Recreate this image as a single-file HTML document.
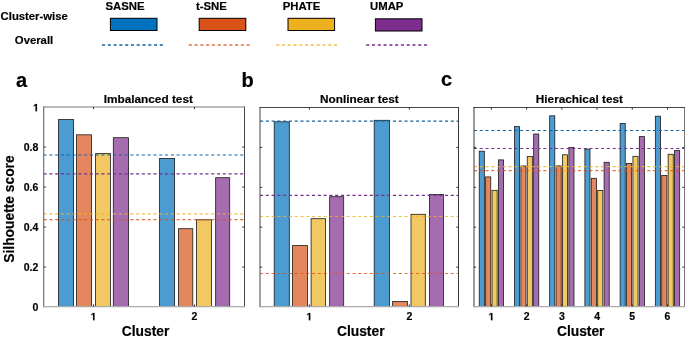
<!DOCTYPE html>
<html><head><meta charset="utf-8"><style>
html,body{margin:0;padding:0;background:#fff;width:685px;height:341px;overflow:hidden}
</style></head><body>
<svg width="685" height="341" viewBox="0 0 685 341" style="display:block;will-change:transform">
<rect width="685" height="341" fill="#fff"/>
<g font-family='"Liberation Sans", sans-serif' font-weight="bold" fill="#000" stroke="#000" stroke-width="0.18">
<text x="34.2" y="19.6" font-size="11.3" text-anchor="middle">Cluster-wise</text>
<text x="34" y="44.1" font-size="11.3" text-anchor="middle">Overall</text>
<text x="105.5" y="10.4" font-size="11.35">SASNE</text>
<text x="196.0" y="10.4" font-size="11.35">t-SNE</text>
<text x="282.7" y="10.4" font-size="11.35">PHATE</text>
<text x="370.0" y="9.6" font-size="11.35">UMAP</text>
</g>
<rect x="110.4" y="18.3" width="46.6" height="12.2" fill="#0072BD" stroke="#000" stroke-width="1"/>
<line x1="102.0" y1="45" x2="164.0" y2="45" stroke="#14649f" stroke-width="1.5" stroke-opacity="1" stroke-dasharray="3.1 2.68"/>
<rect x="199.2" y="18.3" width="46.6" height="12.2" fill="#D95319" stroke="#000" stroke-width="1"/>
<line x1="188.8" y1="45" x2="250.8" y2="45" stroke="#D95319" stroke-width="1.5" stroke-opacity="0.82" stroke-dasharray="3.1 2.68"/>
<rect x="288.0" y="18.3" width="46.6" height="12.2" fill="#EDB120" stroke="#000" stroke-width="1"/>
<line x1="276.2" y1="45" x2="338.2" y2="45" stroke="#EDB120" stroke-width="1.5" stroke-opacity="0.82" stroke-dasharray="3.1 2.68"/>
<rect x="375.4" y="18.8" width="46.6" height="12.2" fill="#7E2F8E" stroke="#000" stroke-width="1"/>
<line x1="366.2" y1="45" x2="428.2" y2="45" stroke="#76308a" stroke-width="1.5" stroke-opacity="1" stroke-dasharray="3.1 2.68"/>
<rect x="58.40" y="119.60" width="15.20" height="187.00" fill="rgb(77,156,209)" stroke="#1a1a1a" stroke-width="0.8"/>
<rect x="76.50" y="134.80" width="15.00" height="171.80" fill="rgb(228,135,94)" stroke="#1a1a1a" stroke-width="0.8"/>
<rect x="95.60" y="153.60" width="14.80" height="153.00" fill="rgb(242,200,99)" stroke="#1a1a1a" stroke-width="0.8"/>
<rect x="113.30" y="137.70" width="15.20" height="168.90" fill="rgb(165,109,176)" stroke="#1a1a1a" stroke-width="0.8"/>
<rect x="159.60" y="158.50" width="15.00" height="148.10" fill="rgb(77,156,209)" stroke="#1a1a1a" stroke-width="0.8"/>
<rect x="178.50" y="228.70" width="14.30" height="77.90" fill="rgb(228,135,94)" stroke="#1a1a1a" stroke-width="0.8"/>
<rect x="196.40" y="219.80" width="15.20" height="86.80" fill="rgb(242,200,99)" stroke="#1a1a1a" stroke-width="0.8"/>
<rect x="215.65" y="177.70" width="14.05" height="128.90" fill="rgb(165,109,176)" stroke="#1a1a1a" stroke-width="0.8"/>
<line x1="43.6" y1="219.60" x2="244.5" y2="219.60" stroke="#D95319" stroke-width="1.2" stroke-opacity="0.82" stroke-dasharray="3.1 2.68"/>
<line x1="43.6" y1="213.80" x2="244.5" y2="213.80" stroke="#EDB120" stroke-width="1.2" stroke-opacity="0.82" stroke-dasharray="3.1 2.68"/>
<line x1="43.6" y1="173.90" x2="244.5" y2="173.90" stroke="#76308a" stroke-width="1.2" stroke-opacity="1" stroke-dasharray="3.1 2.68"/>
<line x1="43.6" y1="155.00" x2="244.5" y2="155.00" stroke="#14649f" stroke-width="1.2" stroke-opacity="1" stroke-dasharray="3.1 2.68"/>
<line x1="43.7" y1="307.20" x2="43.7" y2="106.5" stroke="#666" stroke-width="1.1"/>
<line x1="244.5" y1="307.20" x2="244.5" y2="106.5" stroke="#444" stroke-width="1.0"/>
<line x1="43.1" y1="107.0" x2="245.0" y2="107.0" stroke="#777" stroke-width="1.0"/>
<line x1="43.1" y1="306.6" x2="245.0" y2="306.6" stroke="#aaa" stroke-width="1.2"/>
<line x1="43.6" y1="267.00" x2="45.80" y2="267.00" stroke="#333" stroke-width="1"/>
<line x1="244.5" y1="267.00" x2="242.3" y2="267.00" stroke="#333" stroke-width="1"/>
<line x1="43.6" y1="227.00" x2="45.80" y2="227.00" stroke="#333" stroke-width="1"/>
<line x1="244.5" y1="227.00" x2="242.3" y2="227.00" stroke="#333" stroke-width="1"/>
<line x1="43.6" y1="187.00" x2="45.80" y2="187.00" stroke="#333" stroke-width="1"/>
<line x1="244.5" y1="187.00" x2="242.3" y2="187.00" stroke="#333" stroke-width="1"/>
<line x1="43.6" y1="147.00" x2="45.80" y2="147.00" stroke="#333" stroke-width="1"/>
<line x1="244.5" y1="147.00" x2="242.3" y2="147.00" stroke="#333" stroke-width="1"/>
<line x1="93.50" y1="306.6" x2="93.50" y2="304.40" stroke="#333" stroke-width="1"/>
<line x1="93.50" y1="107.0" x2="93.50" y2="109.2" stroke="#333" stroke-width="1"/>
<line x1="194.50" y1="306.6" x2="194.50" y2="304.40" stroke="#333" stroke-width="1"/>
<line x1="194.50" y1="107.0" x2="194.50" y2="109.2" stroke="#333" stroke-width="1"/>
<g font-family='"Liberation Sans", sans-serif' font-weight="bold" fill="#000" stroke="#000" stroke-width="0.18">
<path transform="translate(90.58,320.20) scale(0.005127,-0.005127)" d="M478,0V1170L140,959V1180L493,1409H759V0Z" fill="#000" stroke="#000" stroke-width="35.1"/>
<text x="194.50" y="320.2" font-size="10.5" text-anchor="middle">2</text>
<text x="38.30" y="311.30" font-size="10.5" text-anchor="end">0</text>
<text x="38.30" y="271.30" font-size="10.5" text-anchor="end">0.2</text>
<text x="38.30" y="231.30" font-size="10.5" text-anchor="end">0.4</text>
<text x="38.30" y="191.30" font-size="10.5" text-anchor="end">0.6</text>
<text x="38.30" y="151.30" font-size="10.5" text-anchor="end">0.8</text>
<path transform="translate(33.06,111.30) scale(0.005127,-0.005127)" d="M478,0V1170L140,959V1180L493,1409H759V0Z" fill="#000" stroke="#000" stroke-width="35.1"/>
<text x="148.30" y="103.1" font-size="11.8" text-anchor="middle">Imbalanced test</text>
<text x="145.55" y="336.3" font-size="13.8" text-anchor="middle">Cluster</text>
</g>
<rect x="274.20" y="121.80" width="15.10" height="184.80" fill="rgb(77,156,209)" stroke="#1a1a1a" stroke-width="0.8"/>
<rect x="292.50" y="245.60" width="14.90" height="61.00" fill="rgb(228,135,94)" stroke="#1a1a1a" stroke-width="0.8"/>
<rect x="311.10" y="218.70" width="14.50" height="87.90" fill="rgb(242,200,99)" stroke="#1a1a1a" stroke-width="0.8"/>
<rect x="329.65" y="196.70" width="14.05" height="109.90" fill="rgb(165,109,176)" stroke="#1a1a1a" stroke-width="0.8"/>
<rect x="374.20" y="120.30" width="15.20" height="186.30" fill="rgb(77,156,209)" stroke="#1a1a1a" stroke-width="0.8"/>
<rect x="392.60" y="301.50" width="14.80" height="5.10" fill="rgb(228,135,94)" stroke="#1a1a1a" stroke-width="0.8"/>
<rect x="411.00" y="214.30" width="14.30" height="92.30" fill="rgb(242,200,99)" stroke="#1a1a1a" stroke-width="0.8"/>
<rect x="429.40" y="194.50" width="14.00" height="112.10" fill="rgb(165,109,176)" stroke="#1a1a1a" stroke-width="0.8"/>
<line x1="260.0" y1="273.50" x2="458.5" y2="273.50" stroke="#D95319" stroke-width="1.2" stroke-opacity="0.82" stroke-dasharray="3.1 2.68"/>
<line x1="260.0" y1="216.50" x2="458.5" y2="216.50" stroke="#EDB120" stroke-width="1.2" stroke-opacity="0.82" stroke-dasharray="3.1 2.68"/>
<line x1="260.0" y1="195.30" x2="458.5" y2="195.30" stroke="#76308a" stroke-width="1.2" stroke-opacity="1" stroke-dasharray="3.1 2.68"/>
<line x1="260.0" y1="121.20" x2="458.5" y2="121.20" stroke="#14649f" stroke-width="1.2" stroke-opacity="1" stroke-dasharray="3.1 2.68"/>
<line x1="260.0" y1="307.20" x2="260.0" y2="107.0" stroke="#444" stroke-width="1.0"/>
<line x1="458.5" y1="307.20" x2="458.5" y2="107.0" stroke="#383838" stroke-width="1.0"/>
<line x1="259.5" y1="107.5" x2="459.0" y2="107.5" stroke="#444" stroke-width="1.0"/>
<line x1="259.5" y1="306.6" x2="459.0" y2="306.6" stroke="#aaa" stroke-width="1.2"/>
<line x1="260.0" y1="267.10" x2="262.2" y2="267.10" stroke="#333" stroke-width="1"/>
<line x1="458.5" y1="267.10" x2="456.3" y2="267.10" stroke="#333" stroke-width="1"/>
<line x1="260.0" y1="227.20" x2="262.2" y2="227.20" stroke="#333" stroke-width="1"/>
<line x1="458.5" y1="227.20" x2="456.3" y2="227.20" stroke="#333" stroke-width="1"/>
<line x1="260.0" y1="187.30" x2="262.2" y2="187.30" stroke="#333" stroke-width="1"/>
<line x1="458.5" y1="187.30" x2="456.3" y2="187.30" stroke="#333" stroke-width="1"/>
<line x1="260.0" y1="147.40" x2="262.2" y2="147.40" stroke="#333" stroke-width="1"/>
<line x1="458.5" y1="147.40" x2="456.3" y2="147.40" stroke="#333" stroke-width="1"/>
<line x1="309.30" y1="306.6" x2="309.30" y2="304.40" stroke="#333" stroke-width="1"/>
<line x1="309.30" y1="107.5" x2="309.30" y2="109.7" stroke="#333" stroke-width="1"/>
<line x1="409.30" y1="306.6" x2="409.30" y2="304.40" stroke="#333" stroke-width="1"/>
<line x1="409.30" y1="107.5" x2="409.30" y2="109.7" stroke="#333" stroke-width="1"/>
<g font-family='"Liberation Sans", sans-serif' font-weight="bold" fill="#000" stroke="#000" stroke-width="0.18">
<path transform="translate(306.38,320.20) scale(0.005127,-0.005127)" d="M478,0V1170L140,959V1180L493,1409H759V0Z" fill="#000" stroke="#000" stroke-width="35.1"/>
<text x="409.30" y="320.2" font-size="10.5" text-anchor="middle">2</text>
<text x="359.40" y="103.1" font-size="11.8" text-anchor="middle">Nonlinear test</text>
<text x="360.75" y="336.3" font-size="13.8" text-anchor="middle">Cluster</text>
</g>
<rect x="479.23" y="151.20" width="5.12" height="155.40" fill="rgb(77,156,209)" stroke="#1a1a1a" stroke-width="0.8"/>
<rect x="485.64" y="176.90" width="5.12" height="129.70" fill="rgb(228,135,94)" stroke="#1a1a1a" stroke-width="0.8"/>
<rect x="492.04" y="190.30" width="5.12" height="116.30" fill="rgb(242,200,99)" stroke="#1a1a1a" stroke-width="0.8"/>
<rect x="498.44" y="159.90" width="5.12" height="146.70" fill="rgb(165,109,176)" stroke="#1a1a1a" stroke-width="0.8"/>
<rect x="514.45" y="126.60" width="5.12" height="180.00" fill="rgb(77,156,209)" stroke="#1a1a1a" stroke-width="0.8"/>
<rect x="520.86" y="166.00" width="5.12" height="140.60" fill="rgb(228,135,94)" stroke="#1a1a1a" stroke-width="0.8"/>
<rect x="527.26" y="156.50" width="5.12" height="150.10" fill="rgb(242,200,99)" stroke="#1a1a1a" stroke-width="0.8"/>
<rect x="533.66" y="134.00" width="5.12" height="172.60" fill="rgb(165,109,176)" stroke="#1a1a1a" stroke-width="0.8"/>
<rect x="549.67" y="115.80" width="5.12" height="190.80" fill="rgb(77,156,209)" stroke="#1a1a1a" stroke-width="0.8"/>
<rect x="556.08" y="165.90" width="5.12" height="140.70" fill="rgb(228,135,94)" stroke="#1a1a1a" stroke-width="0.8"/>
<rect x="562.48" y="154.80" width="5.12" height="151.80" fill="rgb(242,200,99)" stroke="#1a1a1a" stroke-width="0.8"/>
<rect x="568.88" y="147.50" width="5.12" height="159.10" fill="rgb(165,109,176)" stroke="#1a1a1a" stroke-width="0.8"/>
<rect x="584.89" y="149.10" width="5.12" height="157.50" fill="rgb(77,156,209)" stroke="#1a1a1a" stroke-width="0.8"/>
<rect x="591.30" y="178.30" width="5.12" height="128.30" fill="rgb(228,135,94)" stroke="#1a1a1a" stroke-width="0.8"/>
<rect x="597.70" y="190.50" width="5.12" height="116.10" fill="rgb(242,200,99)" stroke="#1a1a1a" stroke-width="0.8"/>
<rect x="604.10" y="162.30" width="5.12" height="144.30" fill="rgb(165,109,176)" stroke="#1a1a1a" stroke-width="0.8"/>
<rect x="620.11" y="123.40" width="5.12" height="183.20" fill="rgb(77,156,209)" stroke="#1a1a1a" stroke-width="0.8"/>
<rect x="626.52" y="163.40" width="5.12" height="143.20" fill="rgb(228,135,94)" stroke="#1a1a1a" stroke-width="0.8"/>
<rect x="632.92" y="156.30" width="5.12" height="150.30" fill="rgb(242,200,99)" stroke="#1a1a1a" stroke-width="0.8"/>
<rect x="639.32" y="136.60" width="5.12" height="170.00" fill="rgb(165,109,176)" stroke="#1a1a1a" stroke-width="0.8"/>
<rect x="655.33" y="116.20" width="5.12" height="190.40" fill="rgb(77,156,209)" stroke="#1a1a1a" stroke-width="0.8"/>
<rect x="661.74" y="175.50" width="5.12" height="131.10" fill="rgb(228,135,94)" stroke="#1a1a1a" stroke-width="0.8"/>
<rect x="668.14" y="154.30" width="5.12" height="152.30" fill="rgb(242,200,99)" stroke="#1a1a1a" stroke-width="0.8"/>
<rect x="674.54" y="150.60" width="5.12" height="156.00" fill="rgb(165,109,176)" stroke="#1a1a1a" stroke-width="0.8"/>
<line x1="473.9" y1="170.70" x2="684.5" y2="170.70" stroke="#D95319" stroke-width="1.2" stroke-opacity="0.82" stroke-dasharray="3.1 2.68"/>
<line x1="473.9" y1="166.60" x2="684.5" y2="166.60" stroke="#EDB120" stroke-width="1.2" stroke-opacity="0.82" stroke-dasharray="3.1 2.68"/>
<line x1="473.9" y1="148.50" x2="684.5" y2="148.50" stroke="#76308a" stroke-width="1.2" stroke-opacity="1" stroke-dasharray="3.1 2.68"/>
<line x1="473.9" y1="130.50" x2="684.5" y2="130.50" stroke="#14649f" stroke-width="1.2" stroke-opacity="1" stroke-dasharray="3.1 2.68"/>
<line x1="474.0" y1="307.20" x2="474.0" y2="107.0" stroke="#4a4a4a" stroke-width="1.1"/>
<line x1="684.5" y1="307.20" x2="684.5" y2="107.0" stroke="#777" stroke-width="1.0"/>
<line x1="473.4" y1="107.5" x2="685.0" y2="107.5" stroke="#444" stroke-width="1.0"/>
<line x1="473.4" y1="306.6" x2="685.0" y2="306.6" stroke="#aaa" stroke-width="1.2"/>
<line x1="473.9" y1="267.10" x2="476.09" y2="267.10" stroke="#333" stroke-width="1"/>
<line x1="684.5" y1="267.10" x2="682.3" y2="267.10" stroke="#333" stroke-width="1"/>
<line x1="473.9" y1="227.20" x2="476.09" y2="227.20" stroke="#333" stroke-width="1"/>
<line x1="684.5" y1="227.20" x2="682.3" y2="227.20" stroke="#333" stroke-width="1"/>
<line x1="473.9" y1="187.30" x2="476.09" y2="187.30" stroke="#333" stroke-width="1"/>
<line x1="684.5" y1="187.30" x2="682.3" y2="187.30" stroke="#333" stroke-width="1"/>
<line x1="473.9" y1="147.40" x2="476.09" y2="147.40" stroke="#333" stroke-width="1"/>
<line x1="684.5" y1="147.40" x2="682.3" y2="147.40" stroke="#333" stroke-width="1"/>
<line x1="491.40" y1="306.6" x2="491.40" y2="304.40" stroke="#333" stroke-width="1"/>
<line x1="491.40" y1="107.5" x2="491.40" y2="109.7" stroke="#333" stroke-width="1"/>
<line x1="526.62" y1="306.6" x2="526.62" y2="304.40" stroke="#333" stroke-width="1"/>
<line x1="526.62" y1="107.5" x2="526.62" y2="109.7" stroke="#333" stroke-width="1"/>
<line x1="561.84" y1="306.6" x2="561.84" y2="304.40" stroke="#333" stroke-width="1"/>
<line x1="561.84" y1="107.5" x2="561.84" y2="109.7" stroke="#333" stroke-width="1"/>
<line x1="597.06" y1="306.6" x2="597.06" y2="304.40" stroke="#333" stroke-width="1"/>
<line x1="597.06" y1="107.5" x2="597.06" y2="109.7" stroke="#333" stroke-width="1"/>
<line x1="632.28" y1="306.6" x2="632.28" y2="304.40" stroke="#333" stroke-width="1"/>
<line x1="632.28" y1="107.5" x2="632.28" y2="109.7" stroke="#333" stroke-width="1"/>
<line x1="667.50" y1="306.6" x2="667.50" y2="304.40" stroke="#333" stroke-width="1"/>
<line x1="667.50" y1="107.5" x2="667.50" y2="109.7" stroke="#333" stroke-width="1"/>
<g font-family='"Liberation Sans", sans-serif' font-weight="bold" fill="#000" stroke="#000" stroke-width="0.18">
<path transform="translate(488.48,320.20) scale(0.005127,-0.005127)" d="M478,0V1170L140,959V1180L493,1409H759V0Z" fill="#000" stroke="#000" stroke-width="35.1"/>
<text x="526.62" y="320.2" font-size="10.5" text-anchor="middle">2</text>
<text x="561.84" y="320.2" font-size="10.5" text-anchor="middle">3</text>
<text x="597.06" y="320.2" font-size="10.5" text-anchor="middle">4</text>
<text x="632.28" y="320.2" font-size="10.5" text-anchor="middle">5</text>
<text x="667.50" y="320.2" font-size="10.5" text-anchor="middle">6</text>
<text x="579.40" y="103.1" font-size="11.8" text-anchor="middle">Hierachical test</text>
<text x="580.70" y="336.3" font-size="13.8" text-anchor="middle">Cluster</text>
</g>
<g font-family='"Liberation Sans", sans-serif' font-weight="bold" fill="#000" stroke="#000" stroke-width="0.18" font-size="20">
<text x="16" y="86.7">a</text><text x="241.6" y="86.5">b</text><text x="441" y="85.8">c</text>
</g>
<text transform="translate(14.2,209) rotate(-90)" font-family='"Liberation Sans", sans-serif' font-weight="bold" stroke="#000" stroke-width="0.18" font-size="13.8" text-anchor="middle">Silhouette score</text>
</svg>
</body></html>
